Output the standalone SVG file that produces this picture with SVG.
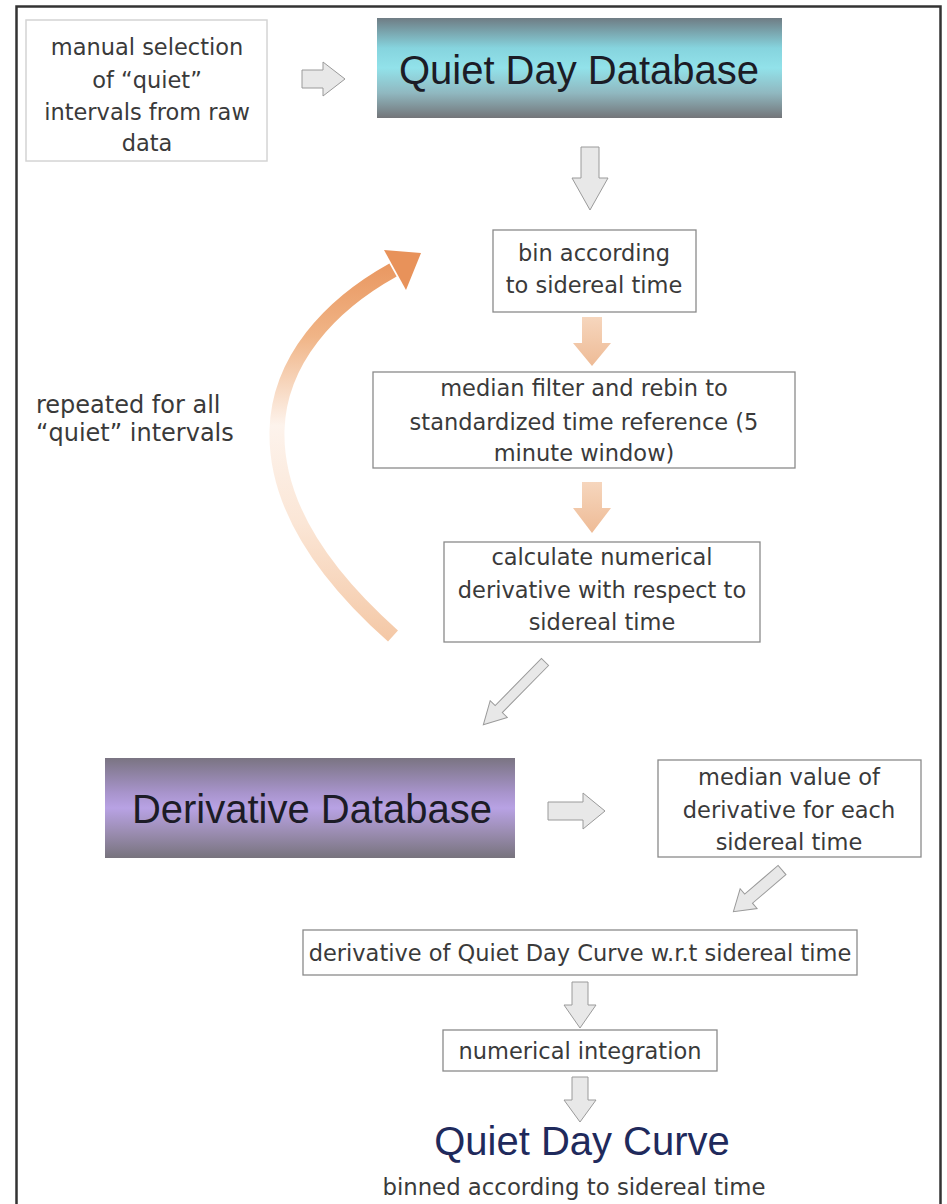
<svg xmlns="http://www.w3.org/2000/svg" width="947" height="1204" viewBox="0 0 947 1204">
<defs>
<linearGradient id="gQ" x1="0" y1="0" x2="0" y2="1">
<stop offset="0" stop-color="#6f7c84"/>
<stop offset="0.3" stop-color="#86d4de"/>
<stop offset="0.5" stop-color="#92e2ea"/>
<stop offset="0.75" stop-color="#90b8c0"/>
<stop offset="1" stop-color="#737579"/>
</linearGradient>
<linearGradient id="gD" x1="0" y1="0" x2="0" y2="1">
<stop offset="0" stop-color="#7a7482"/>
<stop offset="0.35" stop-color="#a894cc"/>
<stop offset="0.5" stop-color="#b8a2e4"/>
<stop offset="0.75" stop-color="#9a8cb0"/>
<stop offset="1" stop-color="#77737d"/>
</linearGradient>
<linearGradient id="gC" gradientUnits="userSpaceOnUse" x1="0" y1="250" x2="0" y2="640">
<stop offset="0" stop-color="#e8925a"/>
<stop offset="0.22" stop-color="#f0b486"/>
<stop offset="0.45" stop-color="#fdf3ec"/>
<stop offset="0.7" stop-color="#fbe6d6"/>
<stop offset="1" stop-color="#f4c8a6"/>
</linearGradient>
<linearGradient id="gO" x1="0" y1="0" x2="0" y2="1">
<stop offset="0" stop-color="#f6d6bd"/>
<stop offset="1" stop-color="#eebb96"/>
</linearGradient>
</defs>
<style>
.box{fill:#fff;stroke:#8a8a8a;stroke-width:1.3}
.box1{fill:#fff;stroke:#d4d4d4;stroke-width:1.5}
.t{font-family:"DejaVu Sans",sans-serif;font-size:22.5px;fill:#3a3a3a;text-anchor:middle}
.tl{font-family:"DejaVu Sans",sans-serif;font-size:24px;fill:#3a3a3a}
.big{font-family:"Liberation Sans",Arial,sans-serif;font-size:40px;fill:#1c1c26;text-anchor:middle}
.ga{fill:#e8e8e8;stroke:#9a9a9a;stroke-width:1}
.oa{fill:url(#gO);stroke:none}
</style>
<rect width="947" height="1204" fill="#fff"/>
<path d="M16.5 1204 V6.5 H940.5 V1204" fill="none" stroke="#333" stroke-width="2.5"/>

<g id="n_manual">
<rect class="box1" x="26" y="20" width="241" height="141"/>
<text class="t" x="147" y="55">manual selection</text>
<text class="t" x="147" y="88">of “quiet”</text>
<text class="t" x="147" y="120">intervals from raw</text>
<text class="t" x="147" y="151">data</text>
</g>

<g id="n_qdd">
<rect x="377" y="18" width="405" height="100" fill="url(#gQ)"/>
<text class="big" x="579" y="84">Quiet Day Database</text>
</g>

<g id="n_bin">
<rect class="box" x="493" y="230" width="203" height="82"/>
<text class="t" x="594" y="261">bin according</text>
<text class="t" x="594" y="293">to sidereal time</text>
</g>

<g id="n_median">
<rect class="box" x="373" y="372" width="422" height="96"/>
<text class="t" x="584" y="396">median filter and rebin to</text>
<text class="t" x="584" y="430">standardized time reference (5</text>
<text class="t" x="584" y="461">minute window)</text>
</g>

<g id="n_calc">
<rect class="box" x="444" y="542" width="316" height="100"/>
<text class="t" x="602" y="565">calculate numerical</text>
<text class="t" x="602" y="598">derivative with respect to</text>
<text class="t" x="602" y="630">sidereal time</text>
</g>

<g id="n_repeat">
<text class="tl" x="36" y="413">repeated for all</text>
<text class="tl" x="36" y="441">“quiet” intervals</text>
</g>

<g id="n_ddb">
<rect x="105" y="758" width="410" height="100" fill="url(#gD)"/>
<text class="big" x="312" y="823">Derivative Database</text>
</g>

<g id="n_medval">
<rect class="box" x="658" y="760" width="263" height="97"/>
<text class="t" x="789" y="785">median value of</text>
<text class="t" x="789" y="818">derivative for each</text>
<text class="t" x="789" y="850">sidereal time</text>
</g>

<g id="n_dqdc">
<rect class="box" x="303" y="930" width="554" height="45"/>
<text class="t" x="580" y="961">derivative of Quiet Day Curve w.r.t sidereal time</text>
</g>

<g id="n_int">
<rect class="box" x="443" y="1030" width="274" height="41"/>
<text class="t" x="580" y="1059">numerical integration</text>
</g>

<g id="n_qdc">
<text x="582" y="1155" font-family="Liberation Sans, Arial, sans-serif" font-size="40" fill="#1f2a5c" text-anchor="middle">Quiet Day Curve</text>
<text class="t" x="574" y="1195" style="font-size:22.8px">binned according to sidereal time</text>
</g>

<g id="connectors">
<polygon class="ga" points="302,70 323,70 323,62 345,79 323,96 323,88 302,88"/>
<polygon class="ga" points="581,147 599,147 599,178 608,178 590,210 572,178 581,178"/>
<polygon class="oa" points="582,317 602,317 602,343 611,343 592,366 573,343 582,343"/>
<polygon class="oa" points="582,482 602,482 602,508 611,508 592,533 573,508 582,508"/>
<path d="M393 636 C330 580 275 510 277 430 C279 360 330 305 393 270" fill="none" stroke="url(#gC)" stroke-width="15"/>
<polygon points="421,253 384,250 406,290" fill="#e8925a"/>
<polygon class="ga" transform="translate(545,662) rotate(134.5)" points="0,-5 66,-5 66,-12 88,0 66,12 66,5 0,5"/>
<polygon class="ga" points="548,802 583,802 583,793 605,811 583,829 583,820 548,820"/>
<polygon class="ga" transform="translate(782,870) rotate(139.4)" points="0,-6 44,-6 44,-13 64,0 44,13 44,6 0,6"/>
<polygon class="ga" points="572,982 588,982 588,1005 596,1005 580,1028 564,1005 572,1005"/>
<polygon class="ga" points="572,1077 588,1077 588,1100 596,1100 580,1122 564,1100 572,1100"/>
</g>
</svg>
